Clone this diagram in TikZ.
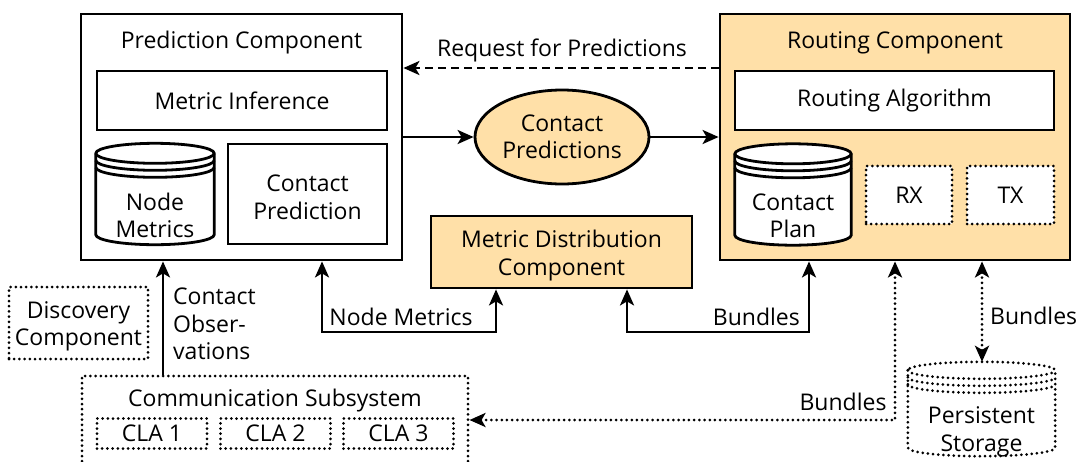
\documentclass[tikz,border=0pt]{standalone}
\usepackage{fontspec}
\setmainfont{Open Sans}
\usetikzlibrary{arrows.meta,shapes.geometric,calc}
\definecolor{compfill}{RGB}{255,224,168}

% data store: side walls, rounded top and bottom, two extra rims under the lid
% #2 = node that gives the outline, #3 = lid half-height, #4 = rim spacing
\newcommand\datastore[4][]{%
  \filldraw[#1] let \p1=(#2.north west), \p2=(#2.south east), \n1={(\x2-\x1)/2} in
    (\x1,\y1-#3pt) -- (\x1,\y2+#3pt)
    arc[start angle=180,end angle=360,x radius=\n1,y radius=#3pt]
    -- (\x2,\y1-#3pt)
    arc[start angle=0,end angle=180,x radius=\n1,y radius=#3pt] -- cycle;
  \draw[#1,fill=none] let \p1=(#2.north west), \p2=(#2.south east), \n1={(\x2-\x1)/2} in
    (\x1,\y1-#3pt) arc[start angle=180,end angle=360,x radius=\n1,y radius=#3pt]
    (\x1,\y1-#3pt-#4pt) arc[start angle=180,end angle=360,x radius=\n1,y radius=#3pt]
    (\x1,\y1-#3pt-2*#4pt) arc[start angle=180,end angle=360,x radius=\n1,y radius=#3pt];
}

\tikzset{
  every node/.style={font=\fontsize{23}{27.5}\selectfont, inner sep=0pt},
  box/.style={draw, line width=2.8pt, rectangle, align=center},
  dotbox/.style={box, line cap=round, dash pattern=on 0pt off 5.2pt, line width=3pt},
  dotline/.style={line cap=round, dash pattern=on 0pt off 5.2pt, line width=3pt},
  arr/.style={line width=2.6pt, -{Stealth[length=16pt,width=14pt,inset=4pt]}},
  darr/.style={line width=2.6pt, {Stealth[length=16pt,width=14pt,inset=4pt]}-{Stealth[length=16pt,width=14pt,inset=4pt]}},
  storebody/.style={line width=2.8pt, fill=white},
  storedot/.style={line width=3pt, fill=white, line cap=round, dash pattern=on 0pt off 5.2pt},
  lbl/.style={align=center},
  % two-line caption set slightly below the middle of its box
  boxtext/.style={label={[lbl,yshift=-3.5pt]center:#1}},
}

\begin{document}
\begin{tikzpicture}[x=1pt,y=-1pt]
\useasboundingbox (0,0) rectangle (1078,461);
\clip (0,0) rectangle (1078,461);

% prediction side
\node[box, minimum width=321, minimum height=246] (pred) at (241.5,137) {};
\node (predtitle) at (241.5,42.5) {Prediction Component};
\node[box, minimum width=290, minimum height=59] (metinf) at (242,100.5) {Metric Inference};
\node[minimum width=118, minimum height=101] (nodemet) at (155,194) {};
\datastore[storebody]{nodemet}{10}{7}
\node[lbl] (nodemettext) at (155,215.5) {Node\\Metrics};
\node[box, minimum width=159, minimum height=100, boxtext={Contact\\Prediction}] (cpred) at (307.5,194) {};

% routing side
\node[box, fill=compfill, minimum width=350, minimum height=246] (route) at (895,137) {};
\node (routetitle) at (895,42.5) {Routing Component};
\node[box, fill=white, minimum width=319, minimum height=59] (ralg) at (894.5,100.5) {Routing Algorithm};
\node[minimum width=116, minimum height=101] (cplan) at (793,194.5) {};
\datastore[storebody]{cplan}{10}{7}
\node[lbl] (cplantext) at (793,216) {Contact\\Plan};
\node[dotbox, fill=white, minimum width=86, minimum height=58] (rx) at (909,195) {RX};
\node[dotbox, fill=white, minimum width=87, minimum height=58] (tx) at (1010.5,195) {TX};

% shared elements
\node[draw, line width=2.8pt, ellipse, fill=compfill, minimum width=174, minimum height=94, align=center] (cp) at (562,137) {Contact\\Predictions};
\node[box, fill=compfill, minimum width=261, minimum height=72, boxtext={Metric Distribution\\Component}] (mdc) at (561.5,252) {};
\node[dotbox, minimum width=139, minimum height=72, boxtext={Discovery\\Component}] (disc) at (78.5,323) {};

% communication subsystem (continues below the lower edge)
\node[dotbox, minimum width=386, minimum height=110] (comm) at (275,431) {};
\node (commtitle) at (275,400.5) {Communication Subsystem};
\node[dotbox, minimum width=110, minimum height=30] (cla1) at (152,433.5) {CLA 1};
\node[dotbox, minimum width=110, minimum height=30] (cla2) at (275.5,433.5) {CLA 2};
\node[dotbox, minimum width=110, minimum height=30] (cla3) at (398.5,433.5) {CLA 3};

% persistent storage
\node[minimum width=147, minimum height=94] (store) at (981.5,409) {};
\datastore[storedot]{store}{8.5}{7}
\node[lbl] (storetext) at (981.5,432) {Persistent\\Storage};

% connectors
\coordinate (reqy) at (0,68);
\draw[arr, dash pattern=on 8pt off 5pt] (route.west |- reqy) -- (pred.east |- reqy);
\node (reqlbl) at (562,50) {Request for Predictions};

\draw[arr] (pred.east) -- (cp.west);
\draw[arr] (cp.east) -- (route.west);

\coordinate (obsx) at (163,0);
\draw[arr] (comm.north -| obsx) -- (pred.south -| obsx);
\node[align=left, anchor=west] (obslbl) at (173,324) {Contact\\Obser-\\vations};

\coordinate (nmx) at (322,0);
\coordinate (nmy) at (0,332);
\coordinate (nmx2) at (496,0);
\draw[darr] (pred.south -| nmx) -- (nmx |- nmy) -- (nmx2 |- nmy) -- (mdc.south -| nmx2);
\node (nmlbl) at (401,317) {Node Metrics};

\coordinate (bux) at (627,0);
\coordinate (bux2) at (809,0);
\draw[darr] (mdc.south -| bux) -- (bux |- nmy) -- (bux2 |- nmy) -- (route.south -| bux2);
\node[anchor=east] (bulbl1) at (800,317) {Bundles};

\coordinate (dbx) at (895,0);
\coordinate (dby) at (0,420);
\draw[darr, dotline] (route.south -| dbx) -- (dbx |- dby) -- (comm.east |- dby);
\node (bulbl2) at (843,402) {Bundles};

\coordinate (psx) at (982,0);
\draw[darr, dotline] (route.south -| psx) -- (store.north -| psx);
\node[anchor=west] (bulbl3) at (990,316) {Bundles};
\end{tikzpicture}
\end{document}
